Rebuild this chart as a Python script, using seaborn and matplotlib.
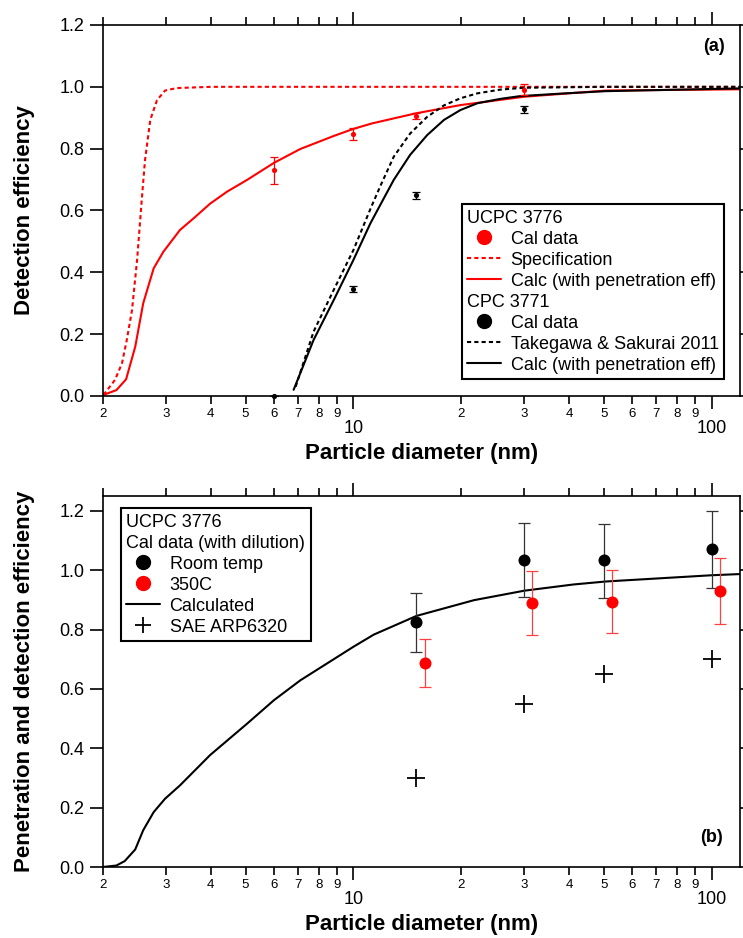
import numpy as np
import pandas as pd
import matplotlib
matplotlib.use("Agg")
import matplotlib.pyplot as plt
import seaborn as sns
from matplotlib.ticker import FixedLocator, FuncFormatter, MultipleLocator, FormatStrFormatter
from matplotlib.lines import Line2D

# ---------------- data: panel (a) ----------------
ucpc_cal_x = [6, 10, 15, 30]
ucpc_cal_y = [0.73, 0.848, 0.906, 0.991]
ucpc_cal_err = [0.044, 0.02, 0.01, 0.017]

cpc_cal_x = [6, 10, 15, 30]
cpc_cal_y = [0.0, 0.345, 0.649, 0.927]
cpc_cal_err = [0.0, 0.01, 0.012, 0.012]

spec_x = [2.0, 2.03, 2.16, 2.26, 2.33, 2.41, 2.49, 2.57, 2.62, 2.71, 2.83, 2.98, 3.21, 4.0, 10, 30, 120]
spec_y = [0.005, 0.011, 0.052, 0.106, 0.181, 0.278, 0.44, 0.645, 0.763, 0.893, 0.957, 0.988, 0.996, 1.0, 1.0, 1.0, 1.0]

ucpc_calc_x = [2.0, 2.18, 2.32, 2.46, 2.59, 2.77, 2.95, 3.28, 3.6, 3.98, 4.44, 5.05, 6.0, 7.11, 8.81, 10,
               11.3, 14.9, 19.9, 30, 50.7, 120]
ucpc_calc_y = [0.003, 0.019, 0.054, 0.159, 0.30, 0.413, 0.467, 0.537, 0.577, 0.622, 0.661, 0.699, 0.754,
               0.799, 0.841, 0.864, 0.882, 0.914, 0.941, 0.968, 0.988, 0.992]

takegawa_x = [6.9, 7.74, 8.81, 10, 11.2, 11.9, 12.96, 14.4, 16.07, 17.9, 19.9, 22.2, 25.7, 29.9, 50, 120]
takegawa_y = [0.03, 0.208, 0.343, 0.472, 0.61, 0.68, 0.774, 0.849, 0.903, 0.94, 0.963, 0.979, 0.991,
              0.997, 1.0, 1.0]

cpc_calc_x = [6.81, 7.74, 8.81, 10, 11.16, 12.96, 14.4, 16.07, 17.9, 19.9, 22.2, 25.7, 29.2, 37.8, 50.7, 120]
cpc_calc_y = [0.02, 0.181, 0.31, 0.44, 0.559, 0.699, 0.78, 0.844, 0.893, 0.925, 0.947, 0.961, 0.970,
              0.978, 0.986, 0.995]

# ---------------- data: panel (b) ----------------
calc_b_x = [2.0, 2.18, 2.30, 2.46, 2.59, 2.77, 2.98, 3.28, 3.98, 5.05, 6.0, 7.11, 8.81, 10, 11.4, 15,
            21.7, 30, 41.2, 50.7, 100, 120]
calc_b_y = [0.0, 0.005, 0.02, 0.059, 0.124, 0.185, 0.23, 0.275, 0.377, 0.483, 0.562, 0.629, 0.70, 0.742,
            0.783, 0.846, 0.899, 0.931, 0.952, 0.962, 0.983, 0.987]

room_x = [15, 30, 50, 100]
room_y = [0.824, 1.036, 1.033, 1.07]
room_lo = [0.725, 0.91, 0.907, 0.94]
room_hi = [0.924, 1.16, 1.156, 1.199]

hot_x = [15.8, 31.6, 52.7, 105.4]
hot_y = [0.687, 0.89, 0.893, 0.929]
hot_lo = [0.606, 0.783, 0.787, 0.818]
hot_hi = [0.769, 0.998, 1.001, 1.042]

sae_x = [15, 30, 50, 100]
sae_y = [0.30, 0.55, 0.65, 0.70]

major_ticks = [10, 100]
minor_ticks = [2, 3, 4, 5, 6, 7, 8, 9, 20, 30, 40, 50, 60, 70, 80, 90]

# ---------------- style ----------------
sns.set_theme(style="ticks")
plt.rcParams["font.family"] = ["Liberation Sans", "DejaVu Sans"]
plt.rcParams.update({
    "axes.linewidth": 1.2,
    "text.color": "black",
    "axes.labelcolor": "black",
    "axes.edgecolor": "black",
    "xtick.color": "black",
    "ytick.color": "black",
})

RED = "#ff0000"
DASH = (0, (2, 1.5))

fig = plt.figure(figsize=(7.43, 9.38), dpi=100)
ax1 = fig.add_axes([0.13863, 0.57783, 0.85734, 0.39552])
ax2 = fig.add_axes([0.13863, 0.07569, 0.85734, 0.39552])


def style_axis(ax, ymax):
    ax.set_xscale("log")
    ax.set_xlim(2, 120)
    ax.set_ylim(0, ymax)
    ax.xaxis.set_major_locator(FixedLocator(major_ticks))
    ax.xaxis.set_minor_locator(FixedLocator(minor_ticks))
    ax.xaxis.set_major_formatter(FuncFormatter(lambda v, p: f"{int(round(v))}"))
    ax.xaxis.set_minor_formatter(
        FuncFormatter(lambda v, p: f"{int(round(v / 10 ** np.floor(np.log10(v) + 1e-9)))}"))
    ax.yaxis.set_major_locator(MultipleLocator(0.2))
    ax.yaxis.set_major_formatter(FormatStrFormatter("%.1f"))
    ax.tick_params(axis="x", which="major", direction="out", top=True, length=9.4,
                   width=1.2, labelsize=13, pad=8, colors="black")
    ax.tick_params(axis="x", which="minor", direction="out", top=True, length=5.8,
                   width=1.2, labelsize=9.5, pad=2.5, colors="black")
    ax.tick_params(axis="y", which="major", direction="out", right=True, length=9.4,
                   width=1.2, labelsize=13, pad=4, colors="black")
    ax.tick_params(axis="y", which="minor", left=False, right=False)
    for s in ax.spines.values():
        s.set_visible(True)
        s.set_color("black")
        s.set_linewidth(1.2)
    ax.set_xlabel("Particle diameter (nm)", fontsize=16, fontweight="bold")
    ax.xaxis.set_label_coords(0.5, -0.128)


# ---------------- panel (a) ----------------
sns.lineplot(x=spec_x, y=spec_y, ax=ax1, color=RED, lw=1.5, ls=DASH, sort=False)
sns.lineplot(x=ucpc_calc_x, y=ucpc_calc_y, ax=ax1, color=RED, lw=1.5, sort=False)
sns.lineplot(x=takegawa_x, y=takegawa_y, ax=ax1, color="black", lw=1.5, ls=DASH, sort=False)
sns.lineplot(x=cpc_calc_x, y=cpc_calc_y, ax=ax1, color="black", lw=1.5, sort=False)

ax1.errorbar(ucpc_cal_x, ucpc_cal_y, yerr=ucpc_cal_err, fmt="none", ecolor=RED,
             elinewidth=0.9, capsize=3, capthick=0.9, zorder=3)
ax1.errorbar(cpc_cal_x, cpc_cal_y, yerr=cpc_cal_err, fmt="none", ecolor="black",
             elinewidth=0.9, capsize=3, capthick=0.9, zorder=3)
sns.scatterplot(x=ucpc_cal_x, y=ucpc_cal_y, ax=ax1, color=RED, s=14, linewidth=0, zorder=4)
sns.scatterplot(x=cpc_cal_x, y=cpc_cal_y, ax=ax1, color="black", s=14, linewidth=0, zorder=4,
                clip_on=False)

style_axis(ax1, 1.2)
ax1.set_ylabel("Detection efficiency", fontsize=16, fontweight="bold")
ax1.yaxis.set_label_coords(-0.106, 0.5)
ax1.text(0.959, 0.941, "(a)", transform=ax1.transAxes, fontsize=13, fontweight="bold",
         ha="center", va="center")

hdr = Line2D([], [], color="none")
handles1 = [
    hdr,
    Line2D([], [], marker="o", color=RED, ls="none", ms=10),
    Line2D([], [], color=RED, lw=1.5, ls=DASH),
    Line2D([], [], color=RED, lw=1.5),
    hdr,
    Line2D([], [], marker="o", color="black", ls="none", ms=10),
    Line2D([], [], color="black", lw=1.5, ls=DASH),
    Line2D([], [], color="black", lw=1.5),
]
labels1 = ["UCPC 3776", "Cal data", "Specification", "Calc (with penetration eff)",
           "CPC 3771", "Cal data", "Takegawa & Sakurai 2011", "Calc (with penetration eff)"]
headers = {"UCPC 3776", "CPC 3771", "Cal data (with dilution)"}


def make_legend(ax, handles, labels, loc, anchor):
    leg = ax.legend(handles, labels, loc=loc, bbox_to_anchor=anchor, borderaxespad=0,
                    fontsize=13, frameon=True, fancybox=False, framealpha=1,
                    edgecolor="black", handlelength=1.85, handletextpad=0.55,
                    labelspacing=0.22, borderpad=0.3)
    leg.get_frame().set_linewidth(1.5)
    for vp in leg._legend_handle_box.get_children():
        for hp in vp.get_children():
            da, ta = hp.get_children()
            if ta.get_text() in headers:
                da.set_width(0)
                hp.sep = 0
    return leg


make_legend(ax1, handles1, labels1, "lower right", (0.975, 0.046))

# ---------------- panel (b) ----------------
sns.lineplot(x=calc_b_x, y=calc_b_y, ax=ax2, color="black", lw=1.5, sort=False)
room_err = [np.subtract(room_y, room_lo), np.subtract(room_hi, room_y)]
hot_err = [np.subtract(hot_y, hot_lo), np.subtract(hot_hi, hot_y)]
ax2.errorbar(room_x, room_y, yerr=room_err, fmt="none", ecolor="#333333",
             elinewidth=0.9, capsize=4, capthick=0.9, zorder=3)
ax2.errorbar(hot_x, hot_y, yerr=hot_err, fmt="none", ecolor="#ff4040",
             elinewidth=0.9, capsize=4, capthick=0.9, zorder=3)
sns.scatterplot(x=room_x, y=room_y, ax=ax2, color="black", s=75, linewidth=0, zorder=4)
sns.scatterplot(x=hot_x, y=hot_y, ax=ax2, color=RED, s=75, linewidth=0, zorder=4)
sns.scatterplot(x=sae_x, y=sae_y, ax=ax2, color="black", marker="+", s=160,
                linewidth=1.3, zorder=4)

style_axis(ax2, 1.25)
ax2.set_ylabel("Penetration and detection efficiency", fontsize=16, fontweight="bold")
ax2.yaxis.set_label_coords(-0.106, 0.5)
ax2.text(0.956, 0.079, "(b)", transform=ax2.transAxes, fontsize=13, fontweight="bold",
         ha="center", va="center")

handles2 = [
    hdr, hdr,
    Line2D([], [], marker="o", color="black", ls="none", ms=10),
    Line2D([], [], marker="o", color=RED, ls="none", ms=10),
    Line2D([], [], color="black", lw=1.5),
    Line2D([], [], marker="+", color="black", ls="none", ms=12, mew=1.3),
]
labels2 = ["UCPC 3776", "Cal data (with dilution)", "Room temp", "350C", "Calculated", "SAE ARP6320"]
make_legend(ax2, handles2, labels2, "upper left", (0.028, 0.967))

fig.savefig("out.png", dpi=100, facecolor="white")
